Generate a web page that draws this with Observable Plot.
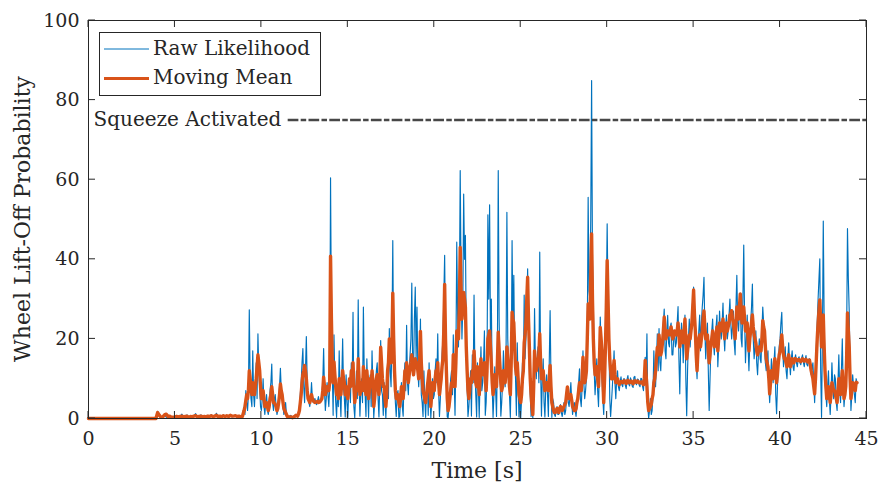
<!DOCTYPE html>
<html>
<head>
<meta charset="utf-8">
<script src="https://cdn.jsdelivr.net/npm/d3@7"></script>
<script src="https://cdn.jsdelivr.net/npm/@observablehq/plot@0.6"></script>
<style>
  html, body { margin: 0; padding: 0; background: #fff; }
  #chart svg { display: block; }
</style>
</head>
<body>
<div id="chart"></div>
<script>
// ---- data ----
// 0.0 – 8.9 s sampled every 0.1 s; 9.0 – 44.45 s sampled every 0.05 s
const earlyStep = 0.1;
const lateStart = 9.0;
const lateStep = 0.05;
const seriesNames = ["Raw Likelihood", "Moving Mean"];
const xTicks = [0, 5, 10, 15, 20, 25, 30, 35, 40, 45];
const yTicks = [0, 20, 40, 60, 80, 100];
const squeezeLabel = "Squeeze Activated";
const squeezeLevel = 75;
const squeezeStart = 11.55;

// ---- Raw likelihood ----
const rawA = [0,0,0,0,0,0,0,0,0,0, 0,0,0,0,0,0,0,0,0,0, 0,0,0,0,0,0,0,0,0,0, 0,0,0,0,0,0,0,0,0,0,
  1.8,0.6,0.2,0.5,0.9,0.3,0.1,0.6,0.2,0.4];
const rawB = [0.3,0.8,0.2,0.5,1.1,0.2,0.4,0.9,0.1,0.6, 0.3,0.7,1.2,0.2,0.5,0.9,0.3,0.6,0.2,0.8,
  0.4,1.0,0.3,0.6,1.3,0.4,0.7,0.2,0.9,0.5, 0.8,0.3,1.0,0.4,0.6,0.9,0.3,0.7,0.2,0.5];
const rawC = [ // 9.0 – 13.95
  3,1,7,4,2,6,27.3,9,5,3,17,6,3,8,14,5,21.3,12,8,3,
  2,5,10,3,1,4,6,2,1,3,7,9,13.7,4,2,5,6,3,1,2,
  5,8,12.6,7,6,3,1,2,4,1,0.5,0.2,0.2,0.6,0.8,0.3,0.1,0.2,0.3,0.5,
  1,0.6,0.4,1.5,3,6,9,14,17.6,8,4,12,20.6,9,6,4,3,5,9,5,
  4,4.8,5,3.8,3.5,4.5,5.5,4,4,4.8,6,9,17.6,7,2,5,9,6,3,8];
const rawD = [ // 14.0 – 18.95
  60.5,25,12,0.8,21,9,4,0.3,8,3,17,6,0.5,10,20,8,5,0.4,11,4,
  0.3,7,9,4,14,8,26.7,3,0.2,6,12,5,29.8,9,0.6,7,10,4,28,11,
  6,0.5,15,7,0.3,9,11,3,17,8,0.2,4,8,12,14,5,0.4,9,19.6,7,
  6,0.8,9,4,0.2,7,13,5,22.6,12,8,20,44.7,15,10,4,0.5,6,7,0.3,
  0.4,5,9,3,0.6,10,14,7,23.4,9,6,12,16,20,34,14,12,25,33,15];
const rawE = [ // 19.0 – 23.95
  28,12,8,15,25,6,4,0.5,12,5,0.3,7,9,0.8,14,6,0.2,4,10,5,
  6,12,15,9,21.3,7,0.5,5,11,16,20,30,41,18,9,0.4,0.2,3,6,10,
  12,6,21,10,0.8,15,44.3,26,18,30,62.3,35,20,28,56.4,40,46,20,8,0.5,
  3,7,12,0.6,16,9,31,12,6,0.4,14,8,0.3,10,18,7,9,14,22,0.8,
  4,12,51.2,30,53.7,20,30,8,0.3,6,13,7,0.5,15,62.3,25,12,0.6,4,9];
const rawF = [ // 24.0 – 28.95
  17,10,8,15,51.8,20,14,6,0.3,12,44.7,22,36,15,10,0.8,19,8,0.4,6,
  0.2,5,14,9,31,15,20,28,37.6,22,12,6,0.5,2,0.2,8,27.6,14,10,15,
  18,9,41.8,13,0.6,10,15,4,0.4,8,11,6,0.5,14,27.1,10,0.3,5,4,1,
  0.5,2,3,1,1,2.5,3.5,1.5,0.5,2,4,1,2,5,8,4,3,6,9,4,
  1,3,4,2,0.5,3,6,9,12.5,5,3,8,17,9,5,7,10,20,55.6,32];
const rawG = [ // 29.0 – 33.95
  30,50,84.9,40,28.8,12,6,10,15,7,3,12,25.5,18,10,5,1,8,20,30,
  48.9,30,22,5,0.5,4,8,12,17,9,5,10,12,8,7,9,10.5,8.5,8,10,
  10,8.3,7.5,9.8,10.8,8.6,8.2,10.2,9.5,8.1,7.8,10.4,10.6,8.8,8.5,9.9,9.8,8.4,8,10.1,
  10,8,7,11,15.4,9,21.3,3,0,2,5,1,2,6,17,10,8,14,21.3,12,
  22.6,14,12,18,20,24,27.5,17,15,22,25.9,19,18,23,24,16,16,20,22,18];
const rawH = [ // 34.0 – 38.95
  19,24,28.1,15,6.2,18,24,20,14,22,26,10,0.7,12,20,25,18,22,26,30,
  33,25,20,14,10,18,22,26,17,24,28,31,35.5,22,15,20,24,12,2,10,
  18,22,25,19,16,21,23,26,13,18,27,22,20,24,29,21,17,23,26,20,
  22,26,30,24,20,23,27,19,16,28,36,24,22,27,31,20,18,30,43.6,25,
  14,20,26,18,12,19,24,28,33.8,20,15,18,22,14,11,16,20,15,14,22];
const rawI = [ // 39.0 – 44.45
  28,24,19,14,12,15,17,8,4,9,15,12,9,14,18,6,1.2,8,14,18,
  20,24,26.7,18,13,16,18,12,10,15,19,14,11,15,17,13,12,15,16,14,
  13,15,15.5,14,13.5,15.2,16,14.1,13,14.8,15.8,13.6,13.2,14.9,15,13,11,12.5,14,9,
  4,10,18,24,30,35,40.1,12,0.3,20,49.6,25,10,6,3,8,12,5,1,6,
  14,8,5,11,10,4,2,9,16,7,4,12,20,8,3,6,9,20,47.7,35,
  27,12,2,6,11,8,6,4,10,9];

// ---- Moving mean ----
const meanA = [0,0,0,0,0,0,0,0,0,0, 0,0,0,0,0,0,0,0,0,0, 0,0,0,0,0,0,0,0,0,0, 0,0,0,0,0,0,0,0,0,0,
  1.5,0.8,0.3,0.4,0.9,1.1,0.5,0.6,0.3,0.3];
const meanB = [0.4,0.5,0.4,0.5,0.6,0.4,0.5,0.6,0.3,0.5, 0.4,0.6,0.7,0.4,0.5,0.6,0.4,0.5,0.4,0.6,
  0.5,0.7,0.5,0.6,0.8,0.5,0.6,0.4,0.7,0.5, 0.7,0.5,0.8,0.6,0.6,0.7,0.5,0.6,0.4,0.5];
const meanC = [
  2,3,4.5,6,5,7,12,10,8,6,9,7,6,8,10,13,16,14,12,8,
  5,6,7,5,3,3,4,3,2,3,5,6,8,6,4,4,3.5,3,2,2.5,
  4,6,8.7,7,6,4,2.5,2,1.5,1,0.5,0.4,0.3,0.4,0.4,0.3,0.2,0.3,0.5,0.6,
  0.8,0.7,0.6,1.2,2,4,6,9,11,12,13.3,12,10,7,5,4.5,4,5,6,5,
  4.5,4.2,4,4.1,4.2,4.3,4,4.1,4.3,4.6,5,7,10.4,8,6,7,8,7.5,7,9];
const meanD = [
  40.8,25,14,9,14.2,11,8,6,7,5,10,8,6,9,12,10,9,6,8,6,
  5,7,10,8,12,10,14,8,4,6,8,7,15,10,6,7,9,7,13,10,
  8,6,12,9,5,7,10,8,12,9,3,5,8,10,11,8,6,10,17.9,14,
  10,8,8,5,3,6,12,14,20,17,14,18,31.5,20,12,7,5,6,6,4,
  3,5,8,6,5,8,12,10,14,11,9,11,13,14,16,13,11,13,15,14];
const meanE = [
  14,12,10,14,21.9,14,10,7,6,5,4,6,8,10,12,8,3,6,9,8,
  7,10,12,11,14,9,6,8,10,13,15,22,33.7,20,12,5,2,3,5,7,
  9,8,16,12,8,14,22,21,20,28,43,32,25,28,31.7,30,28,18,12,7,
  5,7,10,9,12,10,17,13,9,8,13,10,6,10,15,12,11,12,14,10,
  7,12,20,21,22,18,14,9,6,8,11,9,8,14,21.7,17,13,9,7,8];
const meanF = [
  12,10,9,12,18,15,12,8,6,14,26.7,25,24,18,13,11,14,10,6,5,
  4,6,10,12,19,21,24,30,35.5,25,18,10,6,3,1,8,17,14,12,13,
  14,16,21.3,14,10,11,12,9,7,8,9,8,7,10,13.3,8,4,3,2,1.5,
  1.5,2,2.5,2,1.5,2.5,3,2.5,2,2.5,3,3.5,4,6,7.9,6,5,5.5,6,4.5,
  3,2.5,2,2,2.5,4,5,7,9,8,7,10,15.4,12,9,10,12,20,28.8,26];
const meanG = [
  25,35,46.4,30,20,14,11,12,13,10,8,14,22.9,20,17,10,4,10,18,28,
  39.7,30,20,15,12,10,10,12,14.6,11,9,9.5,10,9,8.5,9,9.3,9.1,9,9.4,
  9.5,9.1,8.8,9.3,9.6,9.2,9,9.4,9.4,9,8.7,9.3,9.5,9.2,9.1,9.4,9.3,9,8.9,9.2,
  9.2,8.8,8.5,10,14.6,11,8,4,2,2.5,3,3.5,5,6,9,10,12,15,17.9,16,
  21,18,16,17,19,22,25.5,22,20,21,22,21,21,22,23,21,20,21,22,21];
const meanH = [
  21,22,24,21,18,20,22,21,19,22,25,20,15,17,19,21,20,22,24,28,
  32.3,26,22,16,12,17,20,21,18,20,22,25,27,23,20,21,21,17,14,16,
  19,20,22,20,18,20,21,23,17,20,24,23,22,23,25,22,20,22,24,22,
  23,24,26,26,27.1,25,24,22,20,24,28,26,25,28,31.3,27,24,26,28,25,
  22,23,24,20,17,20,22,24,26,23,21,20,19,17,16,17,18,17,17,20];
const meanI = [
  24.6,23,22,18,15,14,13,10,6.2,9,12,11,10,13,15,12,9,11,14,16,
  17,19,21,18,16,15,15,14,13,15,16,14,13,14,15,14,14,15,15,14.8,
  14.5,14.7,14.8,14.5,14.3,14.6,15,14.7,14.4,14.6,14.9,14.5,14.2,14.5,14.7,13.5,12,11,10,8,
  6.2,10,15,20,24,27,29.8,24,18,22,26,18,12,8,5,7,8,6,4,6,
  9,8,7,7,6,5,4,7,10,8,6,9,12,8,5,6,8,15,26.5,22,
  18,10,5,7,9,8.5,8,7,9.1,9];

function toSeries(early, late) {
  const a = early.map((v, i) => ({t: +(i * earlyStep).toFixed(3), v}));
  const b = late.map((v, i) => ({t: +(lateStart + i * lateStep).toFixed(3), v}));
  return a.concat(b);
}
const rawData = toSeries([...rawA, ...rawB], [...rawC, ...rawD, ...rawE, ...rawF, ...rawG, ...rawH, ...rawI]);
const meanData = toSeries([...meanA, ...meanB], [...meanC, ...meanD, ...meanE, ...meanF, ...meanG, ...meanH, ...meanI]);

// ---- styling ----
const W = 884, H = 487;
const colRaw = "#0072BD", colMean = "#D95319", axisCol = "#262626";
const serif = "'DejaVu Serif', 'Liberation Serif', serif";

const plot = Plot.plot({
  width: W, height: H,
  marginLeft: 88, marginRight: 18, marginTop: 20, marginBottom: 69,
  style: {fontFamily: serif, fontSize: "19px", color: axisCol, background: "#fff"},
  x: {domain: [0, 45]},
  y: {domain: [0, 100]},
  marks: [
    Plot.axisX({ticks: xTicks, tickSize: 0, tickPadding: 13, label: null, fontSize: 19}),
    Plot.axisY({ticks: yTicks, tickSize: 0, tickPadding: 9, label: null, fontSize: 19}),
    Plot.lineY(rawData, {x: "t", y: "v", stroke: colRaw, strokeWidth: 1.15}),
    Plot.lineY(meanData, {x: "t", y: "v", stroke: colMean, strokeWidth: 3.4, strokeLinejoin: "round"}),
    Plot.ruleY([squeezeLevel], {x1: squeezeStart, x2: 45, stroke: "#474747", strokeWidth: 2.7,
      strokeDasharray: "10.7,2.3,5.5,2.3"}),
    Plot.text([squeezeLabel], {x: 0, y: squeezeLevel, text: d => d, textAnchor: "start", dx: 5,
      fontSize: 20, fill: axisCol, lineAnchor: "middle"}),
    Plot.frame({stroke: axisCol, strokeWidth: 1})
  ]
});

const svg = d3.select(plot);
const xs = plot.scale("x"), ys = plot.scale("y");
const x0 = xs.apply(0), x1 = xs.apply(45), y0 = ys.apply(0), y1 = ys.apply(100);
const tickLen = 7;
const g = svg.append("g").attr("stroke", axisCol).attr("stroke-width", 1);
for (const t of xTicks) {
  const px = xs.apply(t);
  g.append("line").attr("x1", px).attr("x2", px).attr("y1", y0).attr("y2", y0 - tickLen);
  g.append("line").attr("x1", px).attr("x2", px).attr("y1", y1).attr("y2", y1 + tickLen);
}
for (const v of yTicks) {
  const py = ys.apply(v);
  g.append("line").attr("x1", x0).attr("x2", x0 + tickLen).attr("y1", py).attr("y2", py);
  g.append("line").attr("x1", x1).attr("x2", x1 - tickLen).attr("y1", py).attr("y2", py);
}

// axis labels
svg.append("text").attr("x", (x0 + x1) / 2).attr("y", 478).attr("text-anchor", "middle")
  .attr("font-family", serif).attr("font-size", 22).attr("fill", axisCol).text("Time [s]");
svg.append("text").attr("transform", `translate(30,${(y0 + y1) / 2}) rotate(-90)`)
  .attr("text-anchor", "middle").attr("font-family", serif).attr("font-size", 22)
  .attr("fill", axisCol).text("Wheel Lift-Off Probability");

// legend
const lg = svg.append("g");
lg.append("rect").attr("x", 99.5).attr("y", 32.5).attr("width", 221).attr("height", 63)
  .attr("fill", "#fff").attr("stroke", axisCol).attr("stroke-width", 1);
const legendItems = [
  {name: seriesNames[0], color: colRaw, width: 1, ly: 49, ty: 55},
  {name: seriesNames[1], color: colMean, width: 3, ly: 78.5, ty: 84}
];
for (const it of legendItems) {
  lg.append("line").attr("x1", 104).attr("x2", 149).attr("y1", it.ly).attr("y2", it.ly)
    .attr("stroke", it.color).attr("stroke-width", it.width);
  lg.append("text").attr("x", 153).attr("y", it.ty).attr("text-anchor", "start")
    .attr("font-family", serif).attr("font-size", 20).attr("fill", axisCol).text(it.name);
}

document.getElementById("chart").appendChild(plot);
</script>
</body>
</html>
